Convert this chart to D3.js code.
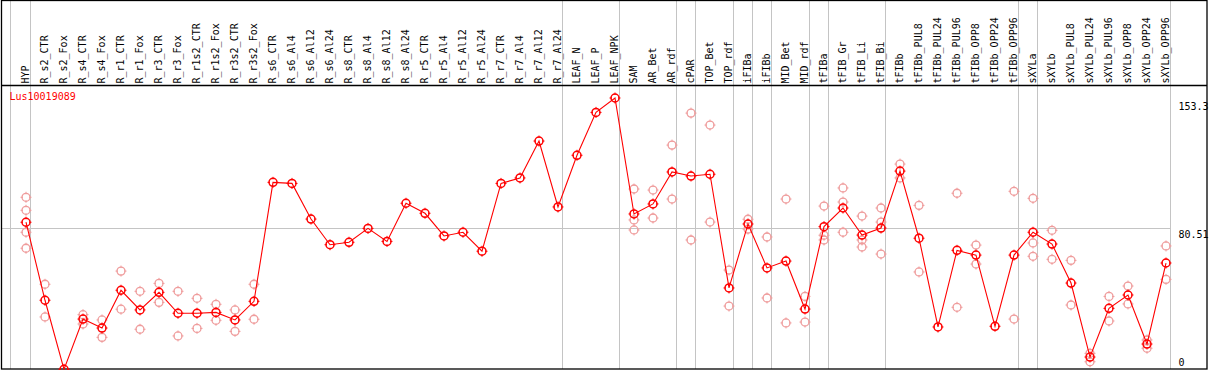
<!DOCTYPE html>
<html>
<head>
<meta charset="utf-8">
<script src="https://cdn.jsdelivr.net/npm/d3@7"></script>
<style>
  body { margin: 0; background: #fff; }
  svg { display: block; }
  text { font-family: "DejaVu Sans Mono", monospace; font-size: 10px; }
</style>
</head>
<body>
<svg id="chart"></svg>
<script>
// sample names (one column each)
var samples = ["HYP", "R_s2_CTR", "R_s2_Fox", "R_s4_CTR", "R_s4_Fox", "R_r1_CTR", "R_r1_Fox",
  "R_r3_CTR", "R_r3_Fox", "R_r1s2_CTR", "R_r1s2_Fox", "R_r3s2_CTR", "R_r3s2_Fox",
  "R_s6_CTR", "R_s6_Al4", "R_s6_Al12", "R_s6_Al24", "R_s8_CTR", "R_s8_Al4", "R_s8_Al12", "R_s8_Al24",
  "R_r5_CTR", "R_r5_Al4", "R_r5_Al12", "R_r5_Al24", "R_r7_CTR", "R_r7_Al4", "R_r7_Al12", "R_r7_Al24",
  "LEAF_N", "LEAF_P", "LEAF_NPK", "SAM", "AR_Bet", "AR_rdf", "cPAR", "TOP_Bet", "TOP_rdf",
  "iFIBa", "iFIBb", "MID_Bet", "MID_rdf", "tFIBa", "tFIB_Gr", "tFIB_Li", "tFIB_Bi", "tFIBb",
  "tFIBb_PUL8", "tFIBb_PUL24", "tFIBb_PUL96", "tFIBb_OPP8", "tFIBb_OPP24", "tFIBb_OPP96",
  "sXYLa", "sXYLb", "sXYLb_PUL8", "sXYLb_PUL24", "sXYLb_PUL96", "sXYLb_OPP8", "sXYLb_OPP24", "sXYLb_OPP96"];

// mean expression per sample
var meanValues = [83.8, 39.4, 0.1, 28.7, 23.6, 45.1, 33.9, 43.9, 32.0, 32.0, 32.5, 28.2, 38.8,
  106.5, 105.9, 85.6, 71.0, 72.4, 80.3, 72.9, 94.6, 88.9, 76.0, 78.1, 67.3, 105.9, 109.0, 130.0, 92.5,
  121.9, 146.3, 154.5, 88.5, 94.2, 112.4, 110.1, 111.1, 46.4, 82.8, 57.8, 61.7, 34.4, 81.3, 91.9,
  76.5, 80.5, 112.9, 74.7, 24.2, 67.8, 65.1, 24.6, 65.1, 78.1, 71.4, 49.2, 7.1, 34.8, 42.4, 14.5, 60.6];

// individual replicates per sample (empty where none are drawn)
var replicates = [[98.0, 90.6, 78.1, 69.0], [48.5, 29.9], [], [31.2, 25.9], [28.2, 18.3], [56.0, 34.3],
  [44.5, 22.9], [49.0, 38.2], [44.5, 19.1], [40.5, 23.4], [37.1, 28.0], [33.9, 21.7], [48.5, 28.6],
  [], [], [], [], [], [], [], [], [], [], [], [], [], [], [], [], [], [], [],
  [102.7, 85.1, 79.4], [102.1, 86.2], [127.7, 97.0], [145.9, 73.7], [139.1, 83.9], [56.6, 36.1],
  [85.5, 79.9], [75.4, 40.7], [97.0, 26.5], [41.6, 27.0], [93.0, 76.4, 73.7], [103.3, 95.3, 78.1],
  [87.3, 73.7, 69.7], [91.9, 83.9, 65.7], [116.9, 109.0], [93.4, 55.5], [], [100.3, 35.4],
  [70.8, 60.0], [], [101.4, 28.7], [97.4, 72.0, 64.4], [79.2, 62.7], [62.1, 36.7], [9.2, 4.4],
  [41.6, 27.6], [47.5, 37.3], [16.8, 12.1], [70.3, 51.3]];

// right-hand tick labels
var tickValues = [153.3, 80.51, 0];
var tickLabels = ["153.3", "80.51", "0"];
var gridValue = 80.51;

// group separators: index of last sample in each group
var groupEnds = [0, 28, 31, 34, 35, 37, 38, 39, 41, 42, 45, 52, 53, 60];

var geneId = "Lus10019089";

var W = 1209, H = 370;
var headerBottom = 85.5, plotBottom = 369;

var svg = d3.select("#chart").attr("width", W).attr("height", H);

var x = d3.scalePoint().domain(samples).range([26, 1166]);
var y = d3.scaleLinear().domain([0, 153.3]).range([369.5, 100.1]);

// vertical separators (full height)
var sepX = [x(samples[0]) - 15.7].concat(groupEnds.map(function(i) { return x(samples[i]) + 4.3; }));
svg.append("g").selectAll("line").data(sepX).enter().append("line")
    .attr("x1", function(d) { return Math.round(d) + 0.5; })
    .attr("x2", function(d) { return Math.round(d) + 0.5; })
    .attr("y1", 0).attr("y2", plotBottom)
    .attr("stroke", "#c4c4c4").attr("stroke-width", 1);

// horizontal grid line
svg.append("line")
    .attr("x1", 1).attr("x2", Math.round(x(samples[60]) + 4.3) + 0.5)
    .attr("y1", Math.round(y(gridValue)) + 0.5).attr("y2", Math.round(y(gridValue)) + 0.5)
    .attr("stroke", "#c4c4c4").attr("stroke-width", 1);

// border + header separator
svg.append("rect")
    .attr("x", 1.5).attr("y", 0.5).attr("width", 1205.5).attr("height", plotBottom - 0.5)
    .attr("fill", "none").attr("stroke", "#000").attr("stroke-width", 1.3);
svg.append("line")
    .attr("x1", 1).attr("x2", 1207).attr("y1", headerBottom).attr("y2", headerBottom)
    .attr("stroke", "#000").attr("stroke-width", 1.3);

// column labels (rotated)
svg.append("g").selectAll("text").data(samples).enter().append("text")
    .attr("transform", function(d) { return "translate(" + (x(d) + 3.4) + ",83.5) rotate(-90)"; })
    .attr("fill", "#000")
    .text(function(d) { return d; });

// gene id
svg.append("text").attr("x", 9.5).attr("y", 99.5).attr("fill", "#ff0000").text(geneId);

// right tick labels
svg.append("g").selectAll("text").data(tickValues).enter().append("text")
    .attr("x", 1178.5)
    .attr("y", function(d) { return Math.min(y(d) + 10.2, 366); })
    .attr("fill", "#000")
    .text(function(d, i) { return tickLabels[i]; });

function marker(g, cx, cy, color, sw) {
  var r = 4;
  g.append("circle").attr("cx", cx).attr("cy", cy).attr("r", r)
      .attr("fill", "none").attr("stroke", color).attr("stroke-width", sw);
  g.append("path")
      .attr("d", "M" + cx + "," + (cy - r - 1.5) + "V" + (cy - r + 1) +
                 "M" + cx + "," + (cy + r - 1) + "V" + (cy + r + 1.5) +
                 "M" + (cx - r - 1.5) + "," + cy + "H" + (cx - r + 1) +
                 "M" + (cx + r - 1) + "," + cy + "H" + (cx + r + 1.5))
      .attr("stroke", color).attr("stroke-width", 1);
}

// replicate markers
var repG = svg.append("g");
replicates.forEach(function(vals, i) {
  vals.forEach(function(v) { marker(repG, x(samples[i]), y(v), "#ef9c9c", 1.3); });
});

// mean line
var line = d3.line()
    .x(function(d, i) { return x(samples[i]); })
    .y(function(d) { return y(d); });
svg.append("path").datum(meanValues)
    .attr("d", line).attr("fill", "none").attr("stroke", "#ff0000").attr("stroke-width", 1.1);

// mean markers
var meanG = svg.append("g");
meanValues.forEach(function(v, i) { marker(meanG, x(samples[i]), y(v), "#ff0000", 1.5); });
</script>
</body>
</html>
